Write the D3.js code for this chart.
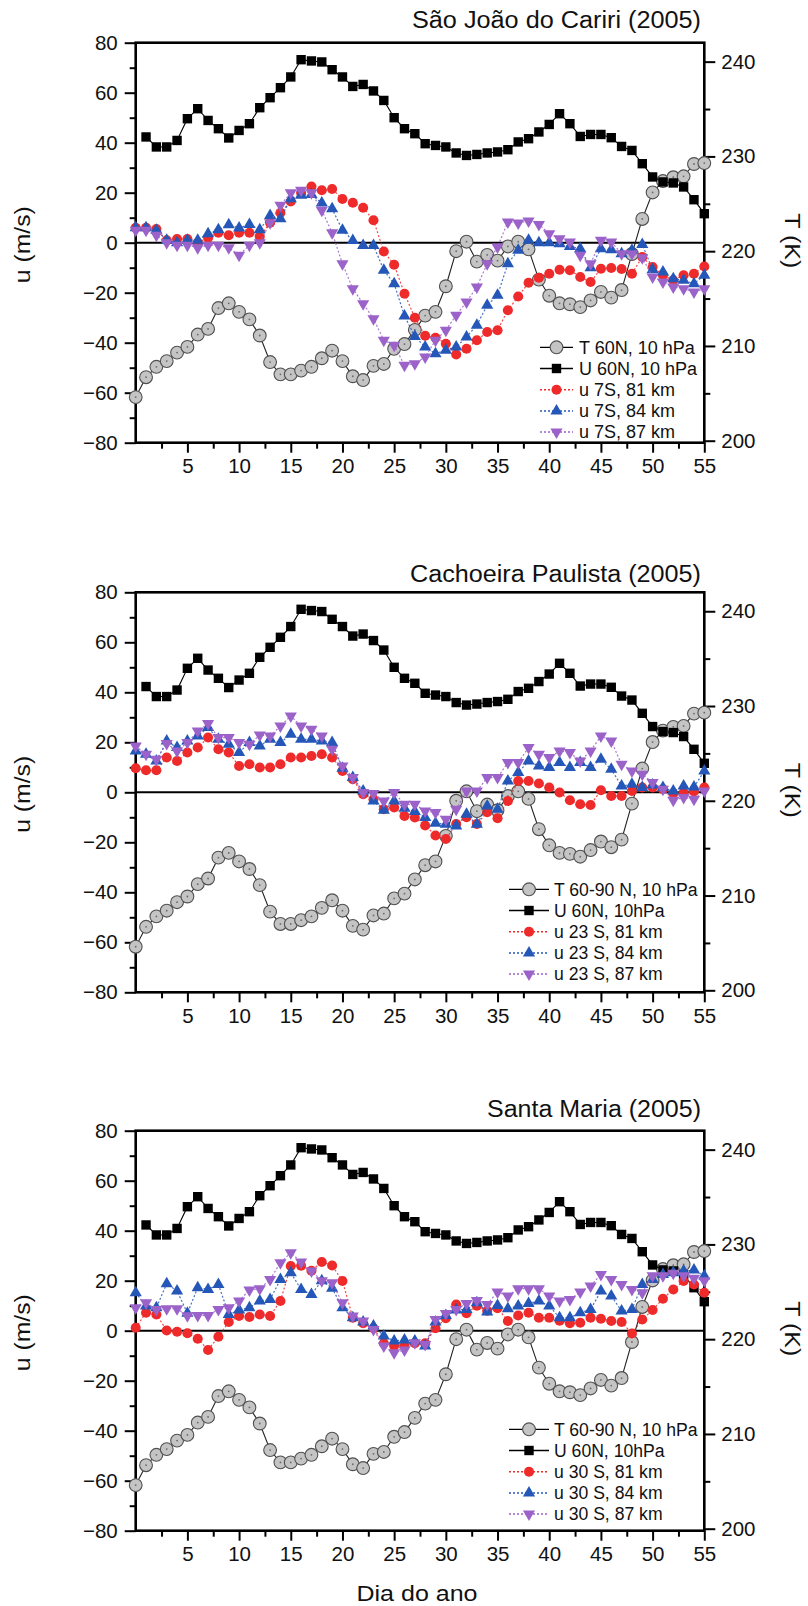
<!DOCTYPE html>
<html lang="pt">
<head>
<meta charset="UTF-8">
<title>Vento zonal e temperatura (2005)</title>
<script src="https://d3js.org/d3.v7.min.js"></script>
<style>
  body { margin: 0; background: #fff; }
  svg { display: block; font-family: "Liberation Sans", Arial, sans-serif; }
  .tick text { font-size: 20.5px; fill: #111; }
  .tick line { stroke: #000; stroke-width: 2px; }
</style>
</head>
<body>
<svg id="fig" width="808" height="1606"></svg>
<script>
// dias do ano (eixo x)
const dias = [0,1,2,3,4,5,6,7,8,9,10,11,12,13,14,15,16,17,18,19,20,21,22,23,24,25,26,27,
  28,29,30,31,32,33,34,35,36,37,38,39,40,41,42,43,44,45,46,47,48,49,50,51,52,53,54,55];

// temperatura 60N / 60-90N, 10 hPa (K) - igual nos tres paineis
const T60 = [204.6,206.7,207.8,208.4,209.3,209.9,211.2,211.8,214.0,214.5,
  213.6,212.8,211.1,208.3,207.0,207.0,207.4,207.8,208.7,209.5,
  208.4,206.8,206.4,207.9,208.1,209.7,210.2,211.7,213.2,213.6,
  216.3,220.0,221.0,218.9,219.6,219.0,220.5,221.0,220.2,217.0,
  215.3,214.5,214.4,214.1,214.8,215.7,215.1,215.9,219.7,223.4,
  226.2,227.4,227.8,227.9,229.2,229.3];

// vento zonal 60N, 10 hPa (m/s)
const U60 = [null,42.3,38.3,38.3,40.9,49.6,53.6,48.9,45.6,41.9,
  44.9,47.6,54,58,62,66.3,73.2,72.7,72.3,69.2,
  66.3,62.5,63.3,60.7,56.9,50,45.6,43.6,39.6,38.9,
  38.3,35.9,34.9,35.3,35.9,36.3,37.2,40.3,41.6,44.3,
  47.3,51.6,47.6,42.5,43.3,43.3,42,38.5,36.9,31.6,
  26.3,24.3,23.9,22.3,17.2,11.6];

// Sao Joao do Cariri, 7S
const cariri81 = [6,6,5.5,1,1.5,1.5,0,2,4,3,
  4,4,2.5,8,12,16.5,20,22.5,21,21.5,
  17.5,16,14,9,-3.5,-8.8,-20.4,-30,-37.2,-38,
  -40.4,-44.7,-42.4,-39,-35.7,-35,-27,-21.5,-16,-14,
  -12.4,-10.8,-11,-13.7,-15.7,-10.4,-10.1,-10.5,-12.4,-5.7,
  -9.7,-13,-15,-13,-12.4,-9.5];
const cariri84 = [6,6,5,1,0,1,1,3.6,5.2,7.2,
  5.9,7.3,5.2,10.9,9.6,17.6,19,19.3,15.9,13.6,
  5,0.9,-1.1,-1.1,-11,-16.4,-29.3,-37.5,-41.7,-44.4,
  -43,-41.7,-37.7,-33,-25,-21,-8.4,-3,1,0,
  0,-0.4,-1.5,-2.4,-10,-2.4,-2.8,-4.4,-3,-0.7,
  -10.8,-11.7,-14.4,-15,-16.4,-13];
const cariri87 = [5,5,3,0,-1,-1,-2,-1,-1,-2,
  -5,-1,0,8,15,20,21,20,13,4,
  -8.4,-18.4,-24.4,-30.4,-39,-41,-49,-48.4,-45.7,-39,
  -35,-29,-23.7,-17.7,-8.4,-1.7,8.3,7.9,8.7,7.3,
  3.6,1.6,0.3,-5,-8.4,1,0.3,-4.4,-4.4,-6,
  -13.7,-15.7,-17.7,-18.4,-19.7,-18.4];

// Cachoeira Paulista, 23S
const cachoeira81 = [9.6,8.8,8.8,13.9,12.5,15.9,17.9,21.9,17.2,15.9,
  10.5,11.2,9.9,9.9,11.2,13.9,13.9,14.5,15.2,13.9,
  8.5,5.2,-0.8,-2.8,-6.8,-6.1,-9.5,-10.1,-13.3,-17.3,
  -18.7,-12.7,-10,-12.7,-8,-10.4,-3.5,4.5,4.5,3.5,
  1.9,-0.1,-3.2,-4.8,-5.1,0.8,-1.5,-1.5,0.5,1.9,
  1.9,1.2,-0.5,-0.1,0.3,1.9];
const cachoeira84 = [16.5,15.2,12.5,20.5,17.9,20.5,22.5,25.9,21.2,19.2,
  15.9,19.9,18.5,21.2,19.9,23.2,21.2,21.2,20.5,19.9,
  9.6,5.9,0.5,-3.5,-7.2,-3.5,-6.4,-7.7,-10.1,-12.4,
  -12.8,-13.5,-8.8,-12.8,-5.5,-6.8,4.5,7.9,12.5,10.5,
  9.9,11.9,9.9,11.9,9.9,13.2,9.2,2.5,3.2,1.9,
  2.9,1.9,0.5,2.5,2.1,8.5];
const cachoeira87 = [18.5,15.2,13.2,19.5,16.5,19.9,24.5,27.5,21.9,21.9,
  19.9,19.2,22.9,22.5,26.5,30.5,26.5,25.2,22.5,17.2,
  10.5,5.9,-0.1,-0.5,-3.5,-0.1,-4.8,-4.8,-7.5,-8.1,
  -10.8,-6.8,0.5,0.5,5.9,5.9,11.9,11.9,17.9,15.2,
  13.9,16.5,15.9,12.5,16.5,22.5,20.5,11.2,8.5,7.2,
  3.9,1.2,-3.2,-2.1,-2.8,0.5];

// Santa Maria, 30S
const santaMaria81 = [1.2,7.2,6.5,0.1,-0.4,-1,-3.2,-7.7,-2.4,3.5,
  5.9,5.5,6.5,5.9,11.9,25.9,26,24,27.5,26.1,
  19.9,5.2,3,1,-5,-6,-6,-5,-5,1,
  5,10.5,7,10,8,9,3.9,6.1,7.2,5.2,
  5.2,4,3,3.2,5.2,4.8,3.9,3.5,-1.1,4.5,
  8.3,12.8,16.5,19.9,18.5,15.2];
const santaMaria84 = [15.2,9.9,9.2,18.8,15.9,7,17.2,16.5,18.5,6.5,
  8.3,9.2,11.9,12.5,20.5,23.2,16.5,14.5,20,17,
  9.2,5.2,3.5,1.9,-2.1,-4.1,-3.7,-4.1,-6.1,3.5,
  6.1,8.3,8.5,11.2,7.5,10.1,8.8,9.9,10.9,11.9,
  9.9,5.2,5.2,7.2,8.5,15.9,13.9,7.9,8.5,18.5,
  20.5,22.5,23.2,23.9,24.3,21.9];
const santaMaria87 = [9.2,11.2,8.5,8.8,8.8,6,6.1,6.1,8.5,9.2,
  11.9,16.3,16.8,20.5,27.2,31.2,27.5,23.9,20,19.2,
  11.2,5.9,3.9,0.5,-6.1,-8.8,-7.7,-4.8,-5.5,4.5,
  6.9,8.5,10.9,12.1,10.5,15.5,13.9,16.8,16.8,16.8,
  13.9,11.9,12.5,15.5,17.9,22.5,20.5,18.5,16.5,15.2,
  22,22,23,22,21,20];

// ticks
const uTicks = [-80,-60,-40,-20,0,20,40,60,80];
const uMinor = [-70,-50,-30,-10,10,30,50,70];
const tTicks = [200,210,220,230,240];
const tMinor = [205,215,225,235];
const xTicks = [5,10,15,20,25,30,35,40,45,50,55];
const xMinor = [2.5,7.5,12.5,17.5,22.5,27.5,32.5,37.5,42.5,47.5,52.5];

const titulos = ["São João do Cariri (2005)", "Cachoeira Paulista (2005)", "Santa Maria (2005)"];
const legendas = [
  ["T 60N, 10 hPa", "U 60N, 10 hPa", "u 7S, 81 km", "u 7S, 84 km", "u 7S, 87 km"],
  ["T 60-90 N, 10 hPa", "U 60N, 10hPa", "u 23 S, 81 km", "u 23 S, 84 km", "u 23 S, 87 km"],
  ["T 60-90 N, 10 hPa", "U 60N, 10hPa", "u 30 S, 81 km", "u 30 S, 84 km", "u 30 S, 87 km"]
];
const ventos = [
  [cariri81, cariri84, cariri87],
  [cachoeira81, cachoeira84, cachoeira87],
  [santaMaria81, santaMaria84, santaMaria87]
];

const svg = d3.select("#fig");
svg.append("rect").attr("width", 808).attr("height", 1606).attr("fill", "#fff");

const left = 135.7, right = 704.3, ph = 400;
const x = d3.scaleLinear().domain([0, 55]).range([left, right]);

const cores = ["#ee2a2a", "#2457b8", "#9b62c9"];
const simbolos = [
  d3.symbol().type(d3.symbolCircle).size(80)(),
  d3.symbol().type(d3.symbolTriangle).size(64)(),
  d3.symbol().type(d3.symbolTriangle).size(64)()
];
const rot = [0, 0, 180];

// paineis: topo, linha de base do titulo, comprimento do titulo, legenda
const paineis = [
  {top: 42.7, titleY: 28, titleW: 289, legY: 304.6, legX: [540, 573, 579], legF: 18},
  {top: 592.3, titleY: 581.5, titleW: 291, legY: 297, legX: [509, 549, 554], legF: 17.6},
  {top: 1130.7, titleY: 1117, titleW: 214, legY: 298.6, legX: [509, 549, 554], legF: 17.6}
];

paineis.forEach((p, i) => drawPanel(p, i));

function drawPanel(p, i) {
  const yU = d3.scaleLinear().domain([-80, 80]).range([p.top + ph, p.top]);
  const yT = d3.scaleLinear().domain([199.79, 242.0]).range([p.top + ph, p.top]);
  const g = svg.append("g");

  // titulo
  g.append("text").attr("x", 701).attr("y", p.titleY)
    .attr("text-anchor", "end").attr("font-size", 23)
    .attr("textLength", p.titleW).attr("lengthAdjust", "spacingAndGlyphs")
    .attr("fill", "#111").text(titulos[i]);

  // eixos
  g.append("g").attr("transform", `translate(${left},0)`)
    .call(d3.axisLeft(yU).tickValues(uTicks).tickSize(11).tickPadding(7));
  g.append("g").attr("transform", `translate(${left},0)`)
    .call(d3.axisLeft(yU).tickValues(uMinor).tickSize(6).tickFormat(""));
  g.append("g").attr("transform", `translate(${right},0)`)
    .call(d3.axisRight(yT).tickValues(tTicks).tickSize(11).tickPadding(6));
  g.append("g").attr("transform", `translate(${right},0)`)
    .call(d3.axisRight(yT).tickValues(tMinor).tickSize(6).tickFormat(""));
  g.append("g").attr("transform", `translate(0,${p.top + ph})`)
    .call(d3.axisBottom(x).tickValues(xTicks).tickSize(10).tickPadding(6));
  g.append("g").attr("transform", `translate(0,${p.top + ph})`)
    .call(d3.axisBottom(x).tickValues(xMinor).tickSize(6).tickFormat(""));
  g.selectAll(".domain").remove();

  // moldura
  g.append("rect").attr("x", left).attr("y", p.top)
    .attr("width", right - left).attr("height", ph)
    .attr("fill", "none").attr("stroke", "#000").attr("stroke-width", 2.6);
  // linha do zero
  g.append("line").attr("x1", left).attr("x2", right)
    .attr("y1", yU(0)).attr("y2", yU(0))
    .attr("stroke", "#000").attr("stroke-width", 2);

  // rotulos dos eixos
  g.append("text").attr("transform", `translate(30,${p.top + 202}) rotate(-90)`)
    .attr("text-anchor", "middle").attr("font-size", 22)
    .attr("textLength", 77).attr("lengthAdjust", "spacingAndGlyphs")
    .attr("fill", "#111").text("u (m/s)");
  g.append("text").attr("transform", `translate(785,${p.top + 198}) rotate(90)`)
    .attr("text-anchor", "middle").attr("font-size", 22)
    .attr("textLength", 55).attr("lengthAdjust", "spacingAndGlyphs")
    .attr("fill", "#111").text("T (K)");

  // T
  const lineT = d3.line().x((d, k) => x(dias[k])).y(d => yT(d));
  g.append("path").attr("d", lineT(T60)).attr("fill", "none")
    .attr("stroke", "#222").attr("stroke-width", 1.1);
  const gT = g.append("g").selectAll("g").data(T60).join("g")
    .attr("transform", (d, k) => `translate(${x(dias[k])},${yT(d)})`);
  gT.append("circle").attr("r", 6.4).attr("fill", "#c4c4c4")
    .attr("stroke", "#505050").attr("stroke-width", 1.1);
  gT.append("circle").attr("r", 0.9).attr("fill", "#6a6a6a");

  // U
  const lineU = d3.line().defined(d => d !== null)
    .x((d, k) => x(dias[k])).y(d => yU(d));
  g.append("path").attr("d", lineU(U60)).attr("fill", "none")
    .attr("stroke", "#000").attr("stroke-width", 1.1);
  g.append("g").selectAll("rect")
    .data(U60.map((d, k) => [dias[k], d]).filter(d => d[1] !== null))
    .join("rect")
    .attr("x", d => x(d[0]) - 4.7).attr("y", d => yU(d[1]) - 4.7)
    .attr("width", 9.4).attr("height", 9.4).attr("fill", "#000");

  // u meteoricos
  ventos[i].forEach((serie, s) => {
    const lineS = d3.line().x((d, k) => x(dias[k])).y(d => yU(d));
    g.append("path").attr("d", lineS(serie)).attr("fill", "none")
      .attr("stroke", cores[s]).attr("stroke-width", 1.2)
      .attr("stroke-dasharray", "2,2").attr("opacity", 0.85);
    g.append("g").selectAll("path").data(serie).join("path")
      .attr("d", simbolos[s]).attr("fill", cores[s])
      .attr("transform", (d, k) => `translate(${x(dias[k])},${yU(d)}) rotate(${rot[s]})`);
  });

  // legenda
  const leg = g.append("g");
  legendas[i].forEach((txt, k) => {
    const cy = p.top + p.legY + k * 21.2;
    const [x1, x2, tx] = p.legX;
    const cx = (x1 + x2) / 2;
    const cor = k < 2 ? "#000" : cores[k - 2];
    leg.append("line").attr("x1", x1).attr("x2", x2).attr("y1", cy).attr("y2", cy)
      .attr("stroke", cor).attr("stroke-width", k < 2 ? 1.3 : 1.5)
      .attr("stroke-dasharray", k < 2 ? null : "2,2");
    if (k === 0) {
      leg.append("circle").attr("cx", cx).attr("cy", cy).attr("r", 6.4)
        .attr("fill", "#c4c4c4").attr("stroke", "#505050").attr("stroke-width", 1.1);
    } else if (k === 1) {
      leg.append("rect").attr("x", cx - 4.7).attr("y", cy - 4.7)
        .attr("width", 9.4).attr("height", 9.4).attr("fill", "#000");
    } else {
      leg.append("path").attr("d", simbolos[k - 2]).attr("fill", cor)
        .attr("transform", `translate(${cx},${cy}) rotate(${rot[k - 2]})`);
    }
    leg.append("text").attr("x", tx).attr("y", cy + 6.3)
      .attr("font-size", p.legF).attr("fill", "#111").text(txt);
  });
}

// rotulo do eixo x
svg.append("text").attr("x", 417).attr("y", 1601)
  .attr("text-anchor", "middle").attr("font-size", 22)
  .attr("textLength", 121).attr("lengthAdjust", "spacingAndGlyphs")
  .attr("fill", "#111").text("Dia do ano");
</script>
</body>
</html>
